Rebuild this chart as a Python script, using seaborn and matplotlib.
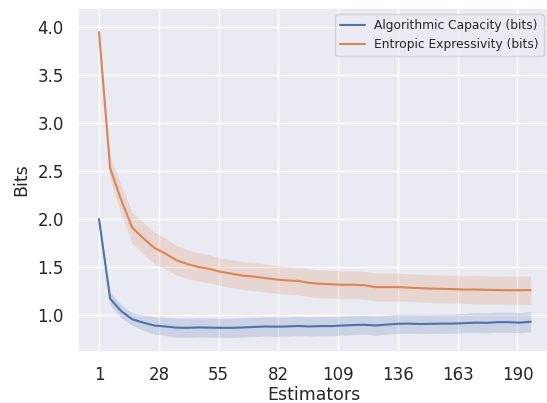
import matplotlib
matplotlib.use("Agg")
import matplotlib.pyplot as plt
import seaborn as sns
import pandas as pd
import numpy as np

estimators = list(range(1, 200, 5))

algo_mean = [2.00, 1.17, 1.04, 0.955, 0.92, 0.89, 0.88, 0.868, 0.866, 0.87,
             0.868, 0.866, 0.866, 0.87, 0.875, 0.88, 0.878, 0.88, 0.885, 0.88,
             0.884, 0.884, 0.89, 0.895, 0.898, 0.89, 0.90, 0.908, 0.91, 0.906,
             0.908, 0.91, 0.91, 0.915, 0.92, 0.918, 0.925, 0.925, 0.92, 0.93]
algo_err = [0.0, 0.07, 0.07, 0.065, 0.08, 0.09, 0.095, 0.1, 0.1, 0.1,
            0.1, 0.1, 0.1, 0.1, 0.1, 0.1, 0.1, 0.1, 0.1, 0.1,
            0.1, 0.1, 0.1, 0.1, 0.1, 0.1, 0.1, 0.1, 0.1, 0.1,
            0.1, 0.1, 0.1, 0.1, 0.105, 0.105, 0.105, 0.105, 0.105, 0.105]

entr_mean = [3.95, 2.53, 2.20, 1.91, 1.80, 1.70, 1.64, 1.57, 1.53, 1.50,
             1.48, 1.45, 1.43, 1.41, 1.40, 1.385, 1.37, 1.36, 1.355, 1.335,
             1.325, 1.32, 1.315, 1.315, 1.31, 1.29, 1.29, 1.29, 1.285, 1.28,
             1.275, 1.272, 1.27, 1.265, 1.265, 1.262, 1.26, 1.258, 1.258, 1.26]
entr_err = [0.02, 0.12, 0.15, 0.16, 0.165, 0.165, 0.16, 0.155, 0.15, 0.15,
            0.145, 0.145, 0.145, 0.145, 0.145, 0.145, 0.145, 0.145, 0.145, 0.145,
            0.145, 0.145, 0.145, 0.145, 0.145, 0.145, 0.145, 0.145, 0.145, 0.145,
            0.145, 0.145, 0.145, 0.145, 0.148, 0.148, 0.148, 0.148, 0.148, 0.148]

series_labels = ["Algorithmic Capacity (bits)", "Entropic Expressivity (bits)"]
xticks = [1, 28, 55, 82, 109, 136, 163, 190]
yticks = [1.0, 1.5, 2.0, 2.5, 3.0, 3.5, 4.0]

sns.set_theme(style="darkgrid")
palette = sns.color_palette("deep")

fig = plt.figure(figsize=(5.47, 4.03), dpi=100)
ax = fig.add_axes([77.7 / 547, (403 - 351.7) / 403, (550 - 77.7) / 547, (351.7 - 8) / 403])

x = np.array(estimators)
for mean, err, lab, col in [(algo_mean, algo_err, series_labels[0], palette[0]),
                            (entr_mean, entr_err, series_labels[1], palette[1])]:
    m = np.array(mean)
    e = np.array(err)
    df = pd.DataFrame({"Estimators": x, "Bits": m})
    sns.lineplot(data=df, x="Estimators", y="Bits", ax=ax, color=col, label=lab, linewidth=1.5)
    ax.fill_between(x, m - e, m + e, color=col, alpha=0.2, linewidth=0)

ax.set_xlim(-8.64, 204.7)
ax.set_ylim(0.617, 4.201)
ax.set_xticks(xticks)
ax.set_xticklabels([str(t) for t in xticks])
ax.set_yticks(yticks)
ax.set_yticklabels([f"{t:.1f}" for t in yticks])
ax.tick_params(labelsize=12, pad=4.0)
ax.set_xlabel("Estimators", fontsize=12.5, labelpad=1.5)
ax.set_ylabel("Bits", fontsize=12.5, labelpad=5)
ax.legend(loc="upper right", fontsize=8.8)

fig.savefig("out.png", dpi=100)
